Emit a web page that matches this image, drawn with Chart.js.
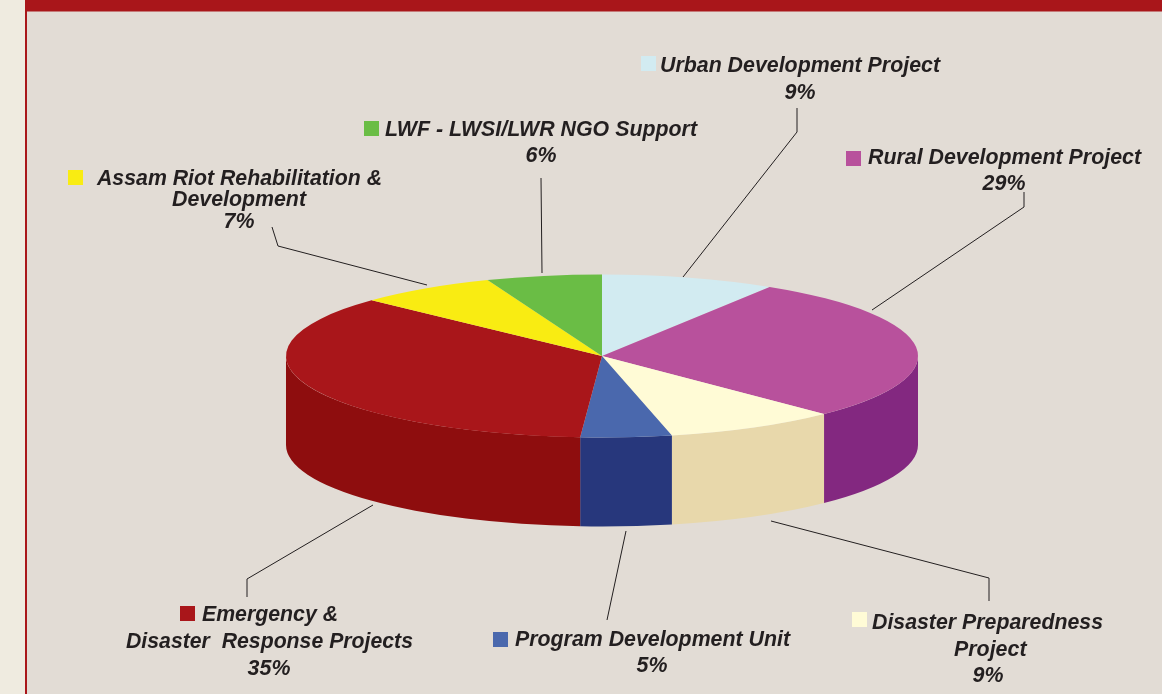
<!DOCTYPE html>
<html>
<head>
<meta charset="utf-8">
<script src="https://cdn.jsdelivr.net/npm/chart.js@4/dist/chart.umd.min.js"></script>
<style>
html,body{margin:0;padding:0;background:#efebe0;overflow:hidden}
canvas{display:block}
</style>
</head>
<body>
<canvas id="c" width="1162" height="694"></canvas>
<script>
const categories = ["Urban Development Project","Rural Development Project","Disaster Preparedness Project","Program Development Unit","Emergency & Disaster Response Projects","Assam Riot Rehabilitation & Development","LWF - LWSI/LWR NGO Support"];
const sliceShares = [8.9, 28.7, 8.85, 4.65, 35.9, 7.1, 5.9];
const percentLabels = ["9%","29%","9%","5%","35%","7%","6%"];
const topColors = ["#d2ebf1","#b8519c","#fffbd6","#4a68ad","#a9161a","#f9ec12","#6abd45"];
const wallColors = ["#b0c8ce","#832880","#e8d8ab","#27377c","#8e0d0e","#c9bd0c","#4f9a30"];

const SQUASH = 81.5 / 316, DEPTH = 89;
const INK = "#231f20";
const FONT = "italic bold 21.4px 'Liberation Sans', Arial, sans-serif";

// [series index, x, baseline, width, percent text]
const labelRows = [
  [0, 660, 72, 280], [0, 800, 99, null, percentLabels[0]],
  [1, 868, 164, 273], [1, 1004, 190, null, percentLabels[1]],
  [2, 872, 629, 231], [2, 954, 656, 73], [2, 988, 682, null, percentLabels[2]],
  [3, 515, 646, 275], [3, 652, 672, null, percentLabels[3]],
  [4, 202, 621, 136], [4, 126, 648, 287], [4, 269, 675, null, percentLabels[4]],
  [5, 97, 185, 285], [5, 172, 206, 134], [5, 239, 228, null, percentLabels[5]],
  [6, 385, 136, 312], [6, 541, 162, null, percentLabels[6]]
];
const rowTexts = ["Urban Development Project", null, "Rural Development Project", null,
  "Disaster Preparedness", "Project", null, "Program Development Unit", null,
  "Emergency &", "Disaster  Response Projects", null,
  "Assam Riot Rehabilitation &", "Development", null,
  "LWF - LWSI/LWR NGO Support", null];
const swatches = [[641,56],[846,151],[852,612],[493,632],[180,606],[68,170],[364,121]];
const leaders = [
  [[797,108],[797,132],[683,277]],
  [[1024,192],[1024,207],[872,310]],
  [[989,601],[989,578],[771,521]],
  [[607,620],[626,531]],
  [[247,597],[247,579],[373,505]],
  [[272,227],[278,246],[427,285]],
  [[541,178],[542,273]]
];

const frame = {
  id: "frame",
  beforeDraw(chart) {
    const {ctx, width, height} = chart;
    ctx.save();
    ctx.fillStyle = "#efebe0"; ctx.fillRect(0, 0, 25, height);
    ctx.fillStyle = "#a9161a"; ctx.fillRect(25, 0, width - 25, height);
    ctx.fillStyle = "#e2dcd5"; ctx.fillRect(27, 11.5, width - 27, height - 11.5);
    ctx.restore();
  }
};

const pie3d = {
  id: "pie3d",
  beforeDatasetsDraw(chart) {
    const ctx = chart.ctx, arcs = chart.getDatasetMeta(0).data;
    const cx = arcs[0].x, cy = arcs[0].y;
    ctx.save();
    arcs.forEach((arc, i) => {
      const r = arc.outerRadius, ry = r * SQUASH;
      const a = arc.startAngle, b = arc.endAngle;
      [0, 2 * Math.PI].forEach(shift => {
        const s = Math.max(a, shift), e = Math.min(b, shift + Math.PI);
        if (e <= s) return;
        ctx.beginPath();
        ctx.ellipse(cx, cy, r, ry, 0, s, e, false);
        ctx.lineTo(cx + r * Math.cos(e), cy + ry * Math.sin(e) + DEPTH);
        ctx.ellipse(cx, cy + DEPTH, r, ry, 0, e, s, true);
        ctx.closePath();
        ctx.fillStyle = wallColors[i];
        ctx.fill();
      });
    });
    ctx.restore();
    ctx.save();
    ctx.translate(cx, cy);
    ctx.scale(1, SQUASH);
    ctx.translate(-cx, -cy);
  },
  afterDatasetsDraw(chart) {
    chart.ctx.restore();
  }
};

const annotations = {
  id: "annotations",
  afterDraw(chart) {
    const ctx = chart.ctx;
    ctx.save();
    ctx.strokeStyle = INK;
    ctx.lineWidth = 1;
    leaders.forEach(pts => {
      ctx.beginPath();
      pts.forEach((p, k) => k ? ctx.lineTo(p[0], p[1]) : ctx.moveTo(p[0], p[1]));
      ctx.stroke();
    });
    swatches.forEach((s, i) => {
      ctx.fillStyle = topColors[i];
      ctx.fillRect(s[0], s[1], 15, 15);
    });
    ctx.font = FONT;
    ctx.fillStyle = INK;
    ctx.textBaseline = "alphabetic";
    let t = 0;
    labelRows.forEach(row => {
      const [, x, y, w, pct] = row;
      if (pct) {
        ctx.textAlign = "center";
        ctx.fillText(pct, x, y);
      } else {
        ctx.textAlign = "left";
        ctx.fillText(rowTexts[t], x, y, w);
      }
      t++;
    });
    ctx.restore();
  }
};

new Chart(document.getElementById("c"), {
  type: "pie",
  data: {
    labels: categories,
    datasets: [{ data: sliceShares, backgroundColor: topColors, borderWidth: 0 }]
  },
  options: {
    responsive: false,
    animation: false,
    radius: 316,
    layout: { padding: { left: 42, top: 18 } },
    plugins: { legend: { display: false }, tooltip: { enabled: false } }
  },
  plugins: [frame, pie3d, annotations]
});
</script>
</body>
</html>
